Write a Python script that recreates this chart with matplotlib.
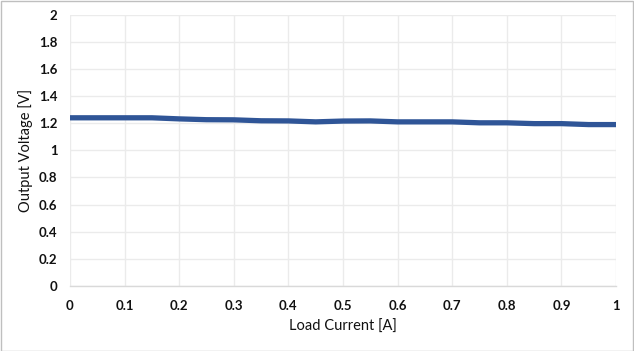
import matplotlib
matplotlib.use("Agg")
import matplotlib.pyplot as plt
from matplotlib.patches import Rectangle

plt.rcParams["font.family"] = ["Lato", "DejaVu Sans"]

# Data
load_current = [0.0, 0.05, 0.1, 0.15, 0.2, 0.25, 0.3, 0.35, 0.4, 0.45, 0.5,
                0.55, 0.6, 0.65, 0.7, 0.75, 0.8, 0.85, 0.9, 0.95, 1.0]
output_voltage = [1.240, 1.240, 1.240, 1.240, 1.232, 1.226, 1.225, 1.218, 1.217,
                  1.210, 1.216, 1.217, 1.210, 1.210, 1.210, 1.203, 1.203, 1.197,
                  1.197, 1.190, 1.190]
x_ticks = [0, 0.1, 0.2, 0.3, 0.4, 0.5, 0.6, 0.7, 0.8, 0.9, 1]
y_ticks = [0, 0.2, 0.4, 0.6, 0.8, 1, 1.2, 1.4, 1.6, 1.8, 2]

LINE = "#2F5597"
GRID = "#EBEBEB"
AXIS = "#D9D9D9"

fig = plt.figure(figsize=(6.34, 3.51), dpi=100)
ax = fig.add_axes([70 / 634, 1 - 286 / 351, 546 / 634, (286 - 14.7) / 351])

ax.plot(load_current, output_voltage, color=LINE, lw=3.8, solid_capstyle="butt",
        zorder=3)

ax.set_xlim(0, 1)
ax.set_ylim(0, 2)
ax.set_xticks(x_ticks)
ax.set_yticks(y_ticks)
ax.set_xticklabels([f"{v:g}" for v in x_ticks])
ax.set_yticklabels([f"{v:g}" for v in y_ticks])
ax.grid(True, color=GRID, lw=1)
ax.set_axisbelow(True)
for s in ["top", "right", "left"]:
    ax.spines[s].set_visible(False)
ax.spines["bottom"].set_color(AXIS)
ax.spines["bottom"].set_linewidth(1)
ax.tick_params(length=0, labelsize=9.5, colors="#111111", pad=9)
for lbl in ax.get_xticklabels() + ax.get_yticklabels():
    lbl.set_fontweight("bold")
ax.tick_params(axis="x", pad=10)

ax.set_xlabel("Load Current [A]", fontsize=10.5, color="#111111", labelpad=6)
ax.set_ylabel("Output Voltage [V]", fontsize=10.5, color="#111111", labelpad=4)

# outer chart border
fig.patches.append(Rectangle((0.5 / 634, 0.5 / 351), 1 - 1.5 / 634, 1 - 1.5 / 351,
                             transform=fig.transFigure, fill=False,
                             edgecolor="#BFBFBF", lw=1))

fig.savefig("out.png", dpi=100)
